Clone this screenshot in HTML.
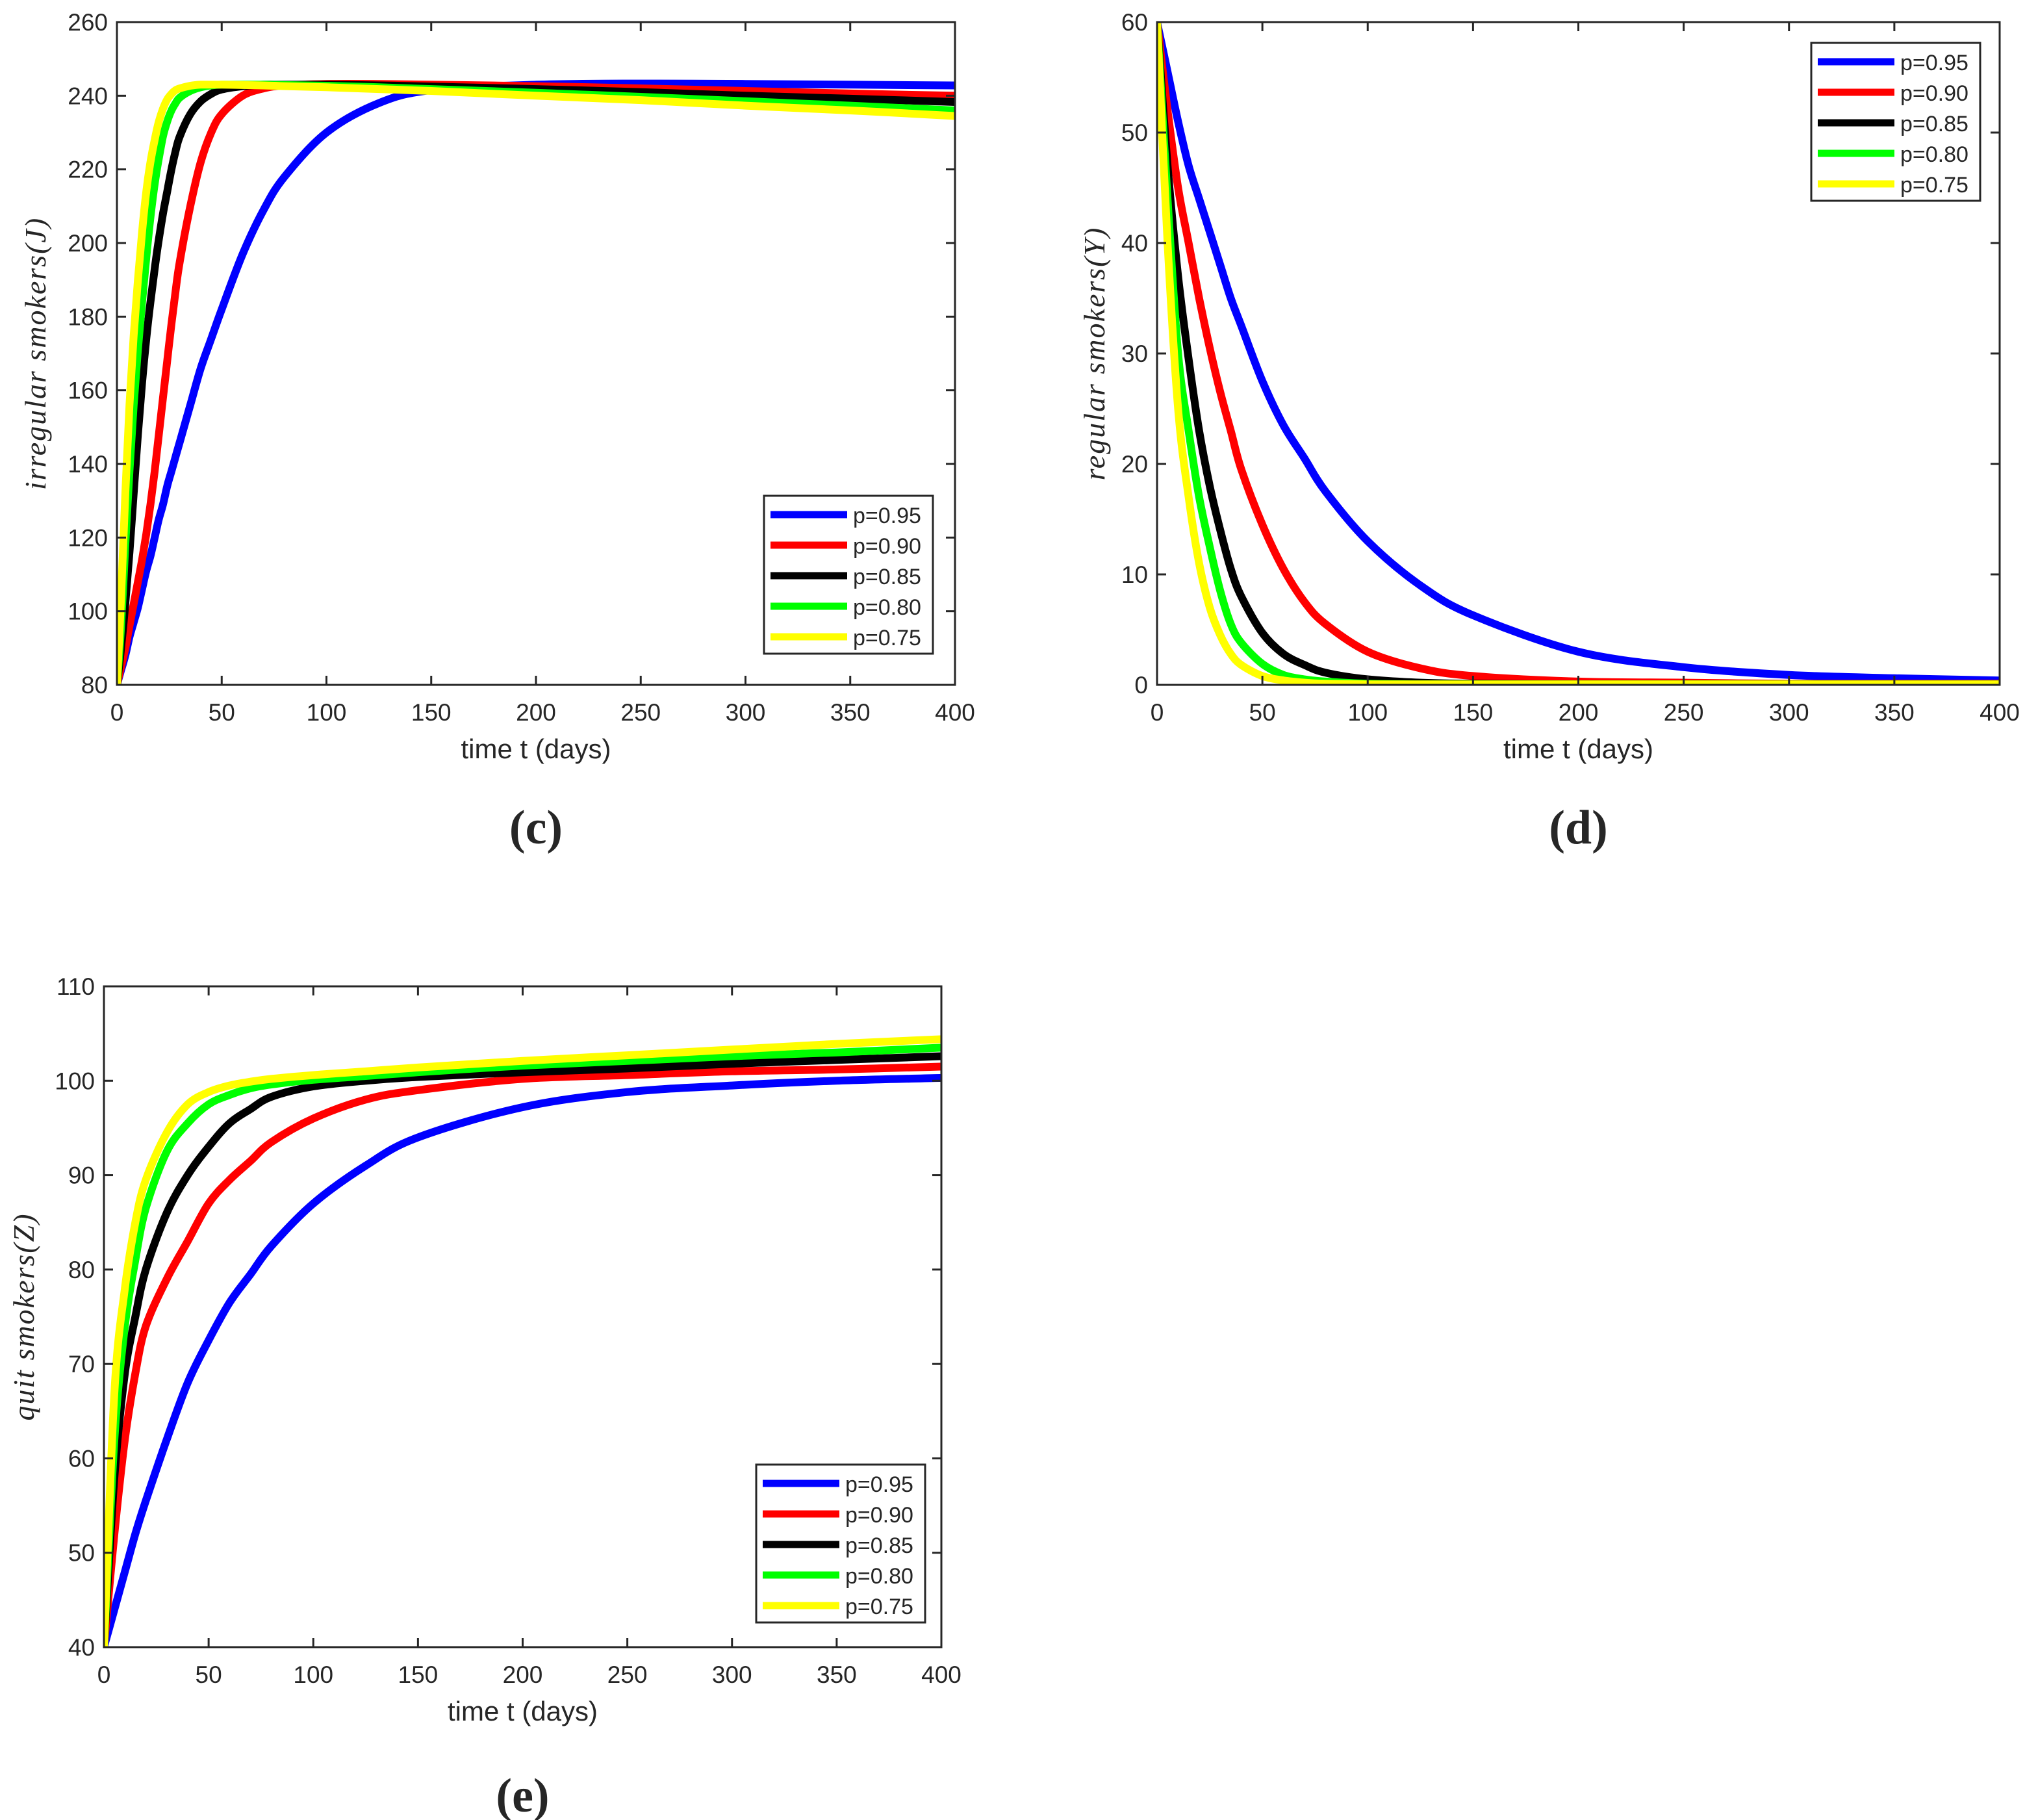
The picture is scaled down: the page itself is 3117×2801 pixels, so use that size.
<!DOCTYPE html>
<html><head><meta charset="utf-8"><style>
body{margin:0;background:#fff;}
svg{display:block;}
text{font-family:"Liberation Sans",sans-serif;fill:#262626;}
</style></head><body>
<svg id="fig" width="3117" height="2801" viewBox="0 0 3117 2801" xmlns="http://www.w3.org/2000/svg"></svg>
<script>
const seriesNames = ["p=0.95","p=0.90","p=0.85","p=0.80","p=0.75"];
const seriesColors = ["#0000ff","#ff0000","#000000","#00ff00","#ffff00"];

// Panel (c): irregular smokers J
const tC = [0,2,4,6,8,10,12,14,16,18,20,22,24,26,28,30,35,40,45,50,60,70,80,100,125,150,200,250,300,350,400];
const jBlue  = [80,84,88,93,97,101,106,111,115,120,125,129,134,138,142,146,156,166,174,182,197,209,218,230,238,241.5,243,243.3,243.2,243,242.8];
const jRed   = [80,85,90,96,102,108,114,121,129,138,148,158,168,178,187,195,210,222,230,235,240,242,242.8,243.2,243.2,243,242.6,242,241.3,240.6,240];
const jBlack = [80,90,102,116,132,148,162,174,184,193,201,208,214,220,225,229,235,238.5,240.5,241.7,242.6,243,243,243,242.8,242.5,241.8,241,240,239.2,238.3];
const jGreen = [80,96,118,138,156,171,184,196,207,216,223,229,233,236,238,239.5,241.3,242.3,242.8,243,243,243,242.9,242.7,242.3,241.8,240.8,239.7,238.5,237.3,236];
const jYellow= [80,104,132,156,175,190,203,214,222,228,233,236.5,239,240.5,241.5,242,242.7,243,243,243,242.9,242.8,242.6,242.3,241.8,241.3,240,238.8,237.3,236,234.5];
const ticksC = [80,100,120,140,160,180,200,220,240,260];

// Panel (d): regular smokers Y
const tD = [0,5,10,15,20,25,30,35,40,50,60,70,80,100,125,150,200,250,300,350,400];
const yBlue  = [60,55.5,51,47,44,41,38,35,32.5,27.5,23.5,20.5,17.5,13,9,6.3,3,1.6,0.9,0.6,0.4];
const yRed   = [60,52,45,40,35,30.5,26.5,23,19.5,14.5,10.5,7.5,5.5,3,1.5,0.8,0.3,0.2,0.1,0.1,0.1];
const yBlack = [60,47,37,29.5,23,18,14,10.5,8,4.7,2.8,1.8,1.1,0.5,0.2,0.1,0.05,0.05,0.05,0.05,0.05];
const yGreen = [60,44,30,23,17,12.5,8.5,5.5,3.8,1.9,0.9,0.5,0.3,0.1,0.05,0.05,0.05,0.05,0.05,0.05,0.05];
const yYellow= [60,40,25,17,11,7,4.5,2.8,1.8,0.8,0.4,0.2,0.1,0.05,0.05,0.05,0.05,0.05,0.05,0.05,0.05];
const ticksD = [0,10,20,30,40,50,60];

// Panel (e): quit smokers Z
const tE = [0,5,10,15,20,30,40,50,60,70,80,100,125,150,200,250,300,350,400];
const zBlue  = [40,44,48,52,55.5,62,68,72.5,76.5,79.5,82.5,87,91,94,97.2,98.8,99.5,100,100.3];
const zRed   = [40,52,62,69,74,79,83,87,89.5,91.5,93.5,96,98,99,100.2,100.6,101,101.2,101.5];
const zBlack = [40,58,69,75,80,86,90,93,95.5,97,98.3,99.4,100,100.4,100.9,101.3,101.8,102.2,102.6];
const zGreen = [40,62,74,81,86.5,92.5,95.5,97.5,98.5,99.2,99.6,100.1,100.5,100.9,101.6,102.1,102.6,103,103.5];
const zYellow= [40,67,78,85,89.5,94.5,97.5,98.8,99.5,99.9,100.2,100.6,101,101.4,102.1,102.7,103.3,103.9,104.4];
const ticksE = [40,50,60,70,80,90,100,110];

const xTicks = [0,50,100,150,200,250,300,350,400];

const NS="http://www.w3.org/2000/svg";
const svg=document.getElementById('fig');
function mk(tag,attrs,parent){const e=document.createElementNS(NS,tag);for(const k in attrs)e.setAttribute(k,attrs[k]);(parent||svg).appendChild(e);return e;}

function smoothPath(pts){
  let d="M"+pts[0][0].toFixed(1)+","+pts[0][1].toFixed(1);
  for(let i=0;i<pts.length-1;i++){
    const p0=pts[Math.max(0,i-1)],p1=pts[i],p2=pts[i+1],p3=pts[Math.min(pts.length-1,i+2)];
    const c1=[p1[0]+(p2[0]-p0[0])/6,p1[1]+(p2[1]-p0[1])/6];
    const c2=[p2[0]-(p3[0]-p1[0])/6,p2[1]-(p3[1]-p1[1])/6];
    d+=" C"+c1[0].toFixed(1)+","+c1[1].toFixed(1)+" "+c2[0].toFixed(1)+","+c2[1].toFixed(1)+" "+p2[0].toFixed(1)+","+p2[1].toFixed(1);
  }
  return d;
}

function panel(cfg){
  const g=mk('g',{});
  
  
  const L=cfg.L,R=cfg.R,T=cfg.T,B=cfg.B;
  const xs=v=>L+(v-0)/400*(R-L);
  const ys=v=>B-(v-cfg.ymin)/(cfg.ymax-cfg.ymin)*(B-T);
  const clip='clip-'+cfg.id;
  const cp=mk('clipPath',{id:clip},g);mk('rect',{x:L,y:T,width:R-L,height:B-T},cp);
  const sg=mk('g',{'clip-path':'url(#'+clip+')'},g);
  cfg.series.forEach((vals,i)=>{
    const pts=cfg.t.map((t,j)=>[xs(t),ys(vals[j])]);
    const p=mk('path',{d:smoothPath(pts),fill:'none',stroke:seriesColors[i],'stroke-width':12,'stroke-linejoin':'round'},sg);
    
    
  });
  const box=mk('rect',{x:L,y:T,width:R-L,height:B-T,fill:'none',stroke:'#262626','stroke-width':3},g);
  
  
  xTicks.forEach(v=>{
    const x=xs(v);
    mk('line',{x1:x,y1:B,x2:x,y2:B-14,stroke:'#262626','stroke-width':3},g);
    mk('line',{x1:x,y1:T,x2:x,y2:T+14,stroke:'#262626','stroke-width':3},g);
    const t=mk('text',{x:x,y:B+55,'text-anchor':'middle','font-size':37},g);
    t.textContent=v;
    
    
  });
  cfg.yticks.forEach(v=>{
    const y=ys(v);
    mk('line',{x1:L,y1:y,x2:L+14,y2:y,stroke:'#262626','stroke-width':3},g);
    mk('line',{x1:R,y1:y,x2:R-14,y2:y,stroke:'#262626','stroke-width':3},g);
    const t=mk('text',{x:L-14,y:y+13,'text-anchor':'end','font-size':37},g);
    t.textContent=v;
    
    
  });
  const xl=mk('text',{x:(L+R)/2,y:B+113,'text-anchor':'middle','font-size':42},g);
  xl.textContent='time t (days)';
  
  
  const yl=mk('text',{x:0,y:0,'text-anchor':'middle','font-size':46,'font-style':'italic','letter-spacing':2,transform:'translate('+(cfg.ylx)+','+((T+B)/2)+') rotate(-90)',style:'font-family:"Liberation Serif",serif'},g);
  yl.textContent=cfg.ylabel;
  
  
  const cap=mk('text',{x:(L+R)/2,y:cfg.capY,'text-anchor':'middle','font-size':74,'font-weight':'bold',style:'font-family:"Liberation Serif",serif'},g);
  cap.textContent=cfg.caption;
  
  
  const lg=mk('g',{},g);
  
  
  mk('rect',{x:cfg.lx,y:cfg.ly,width:260,height:243,fill:'#fff',stroke:'#262626','stroke-width':3},lg);
  seriesNames.forEach((n,i)=>{
    const y=cfg.ly+29+i*47;
    const ln=mk('line',{x1:cfg.lx+10,y1:y,x2:cfg.lx+128,y2:y,stroke:seriesColors[i],'stroke-width':11},lg);
    
    
    const t=mk('text',{x:cfg.lx+137,y:y+13,'font-size':34,fill:'#000'},lg);
    t.textContent=n;
    
    
  });
}

panel({id:'c',name:'panel-c-irregular-smokers',L:180,R:1470,T:34,B:1054,ymin:80,ymax:260,yticks:ticksC,t:tC,
  series:[jBlue,jRed,jBlack,jGreen,jYellow],ylabel:'irregular smokers(J)',ylx:70,caption:'(c)',capY:1298,lx:1176,ly:763});
panel({id:'d',name:'panel-d-regular-smokers',L:1781,R:3078,T:34,B:1054,ymin:0,ymax:60,yticks:ticksD,t:tD,
  series:[yBlue,yRed,yBlack,yGreen,yYellow],ylabel:'regular smokers(Y)',ylx:1700,caption:'(d)',capY:1298,lx:2788,ly:66});
panel({id:'e',name:'panel-e-quit-smokers',L:160,R:1449,T:1518,B:2535,ymin:40,ymax:110,yticks:ticksE,t:tE,
  series:[zBlue,zRed,zBlack,zGreen,zYellow],ylabel:'quit smokers(Z)',ylx:52,caption:'(e)',capY:2788,lx:1164,ly:2254});
</script>
</body></html>
